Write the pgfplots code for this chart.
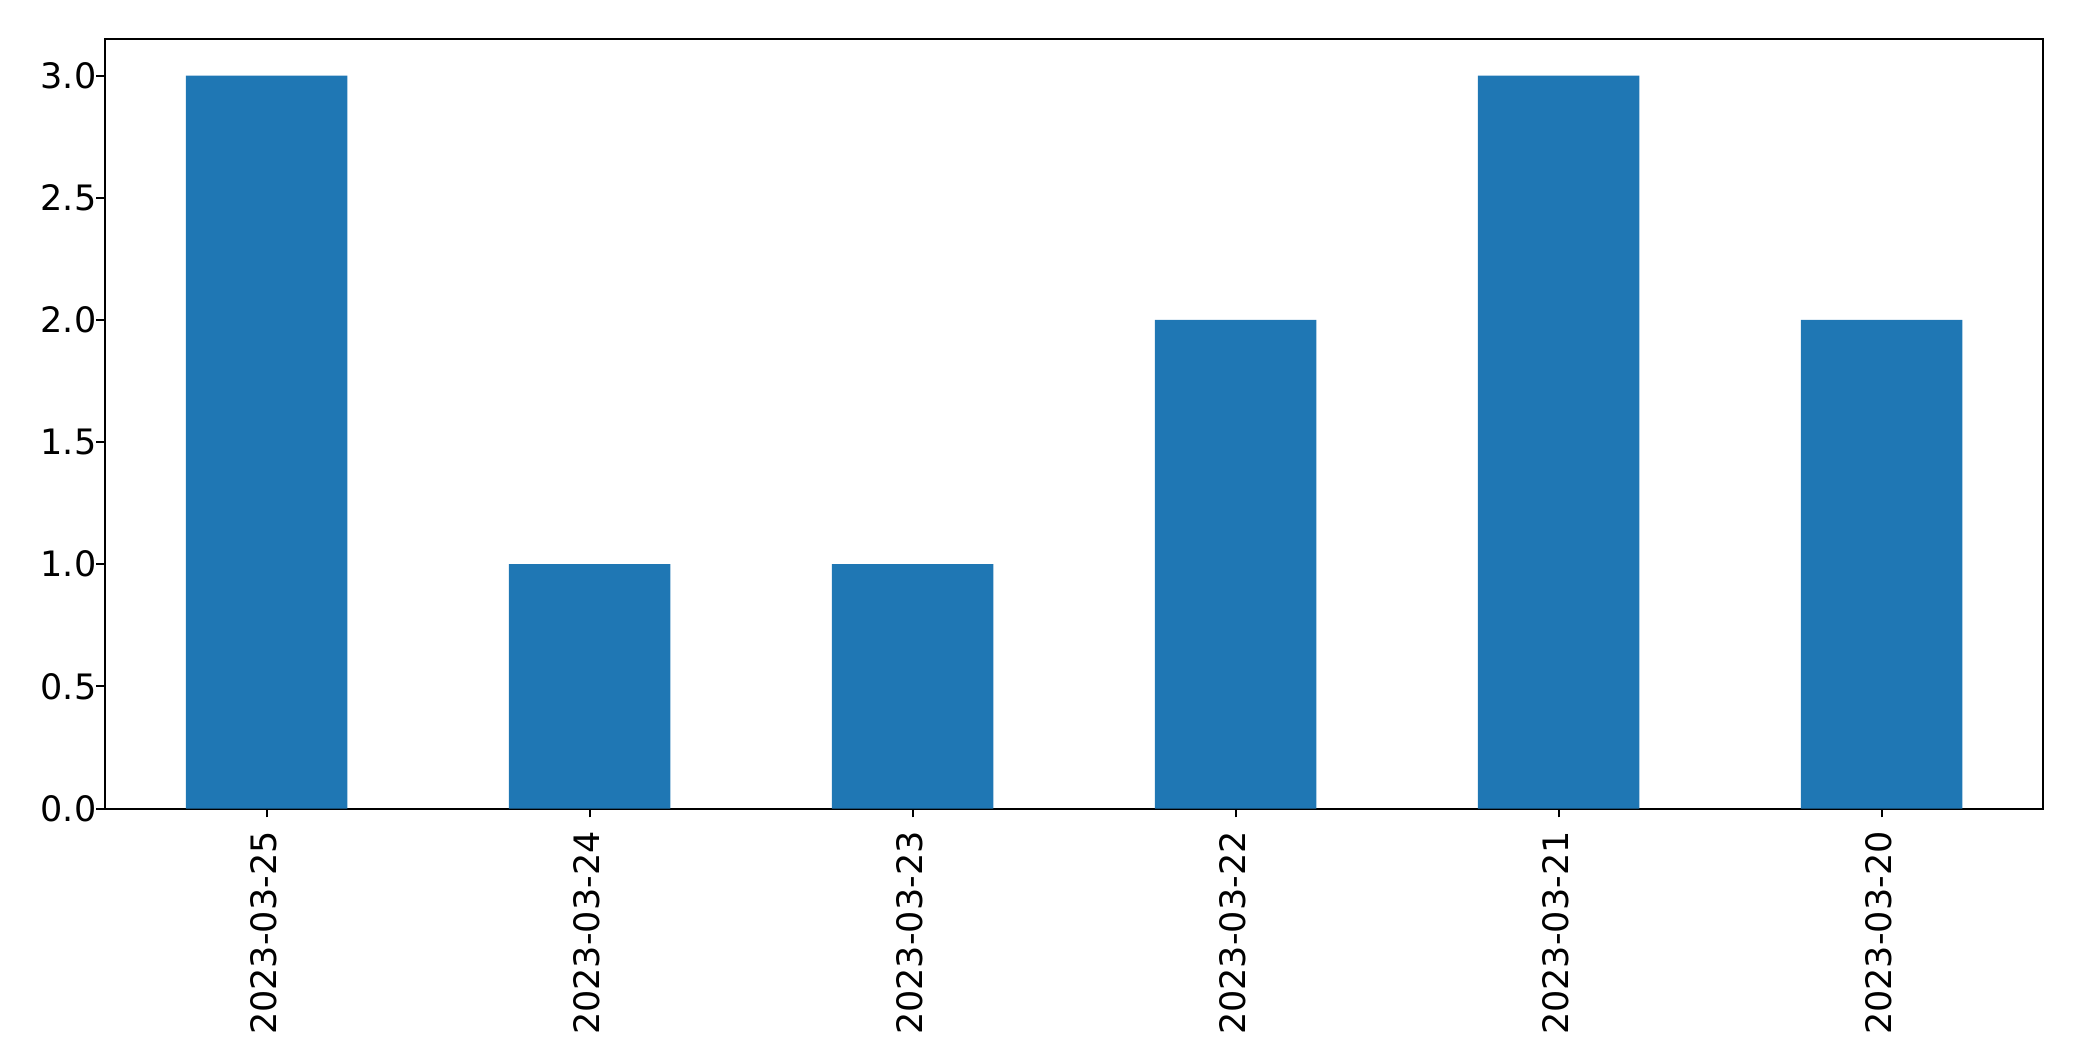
\documentclass[border=0pt]{standalone}
\usepackage{fontspec}
\setmainfont{DejaVu Sans}
\usepackage{pgfplots}
\pgfplotsset{compat=1.18}
\definecolor{tabblue}{HTML}{1F77B4}
\begin{document}
\begin{tikzpicture}
\begin{axis}[
  name=ax,
  scale only axis,
  width=484.5bp, height=192.4bp,
  xmin=-0.5, xmax=5.5,
  ymin=0, ymax=3.15,
  xtick={0,1,2,3,4,5},
  xticklabels={2023-03-25,2023-03-24,2023-03-23,2023-03-22,2023-03-21,2023-03-20},
  x tick label style={rotate=90, anchor=east, yshift=0.75bp, font=\fontsize{8.75bp}{10bp}\selectfont},
  ytick={0,0.5,1,1.5,2,2.5,3},
  y tick label style={xshift=3.5bp, font=\fontsize{8.75bp}{10bp}\selectfont, /pgf/number format/.cd, fixed, fixed zerofill, precision=1},
  /pgf/number format/assume math mode=true,
  tick align=outside,
  major tick length=2.2bp,
  tick style={black, line width=0.5bp},
  xtick pos=bottom, ytick pos=left,
  axis line style={line width=0.5bp},
]
\addplot[ybar, bar width=0.5, fill=tabblue, draw=none, bar shift=0pt] coordinates {
  (0,3) (1,1) (2,1) (3,2) (4,3) (5,2)
};
\end{axis}
\path ([xshift=-26.3bp,yshift=-63bp]ax.south west) rectangle ([xshift=9.75bp,yshift=9.75bp]ax.north east);
\end{tikzpicture}
\end{document}
